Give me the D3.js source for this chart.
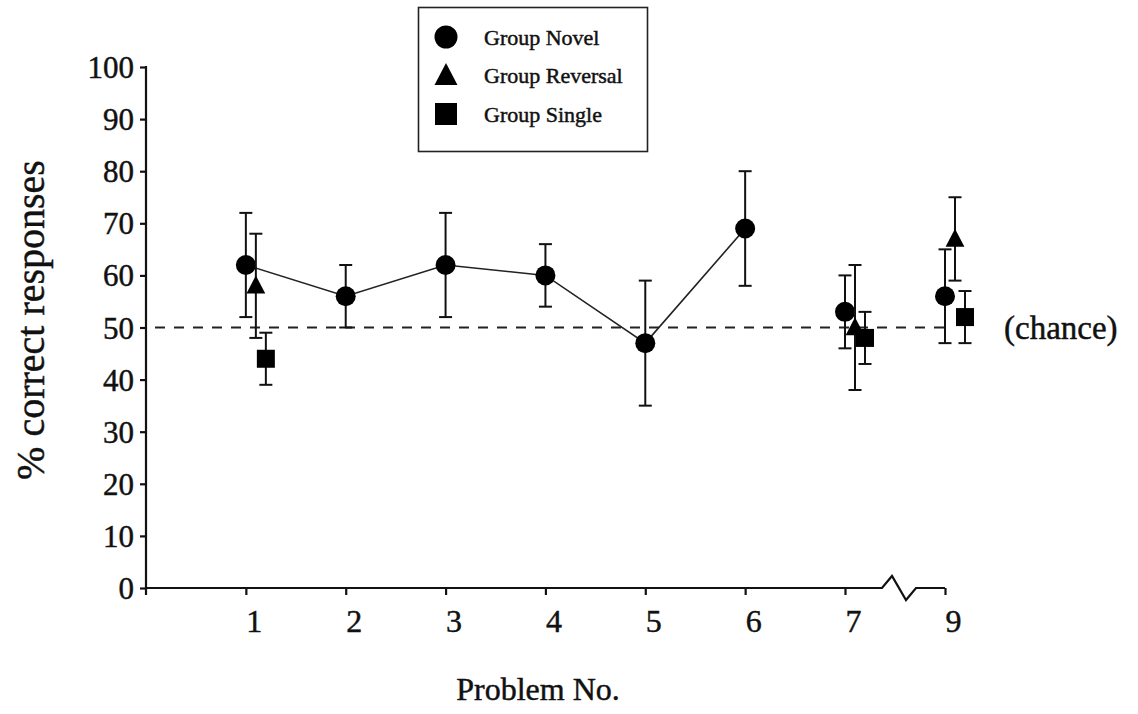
<!DOCTYPE html>
<html>
<head>
<meta charset="utf-8">
<script src="https://cdn.jsdelivr.net/npm/d3@7"></script>
<style>
  body { margin: 0; background: #fff; }
  svg { display: block; font-family: "Liberation Serif", "DejaVu Serif", serif; }
  text { stroke: #111; stroke-width: 0.45px; }
</style>
</head>
<body>
<svg id="chart" width="1138" height="714"></svg>
<script>
// problems on the x axis (8 is skipped, hence the break)
var problems = [1, 2, 3, 4, 5, 6, 7, 9];
var yTicks = [0, 10, 20, 30, 40, 50, 60, 70, 80, 90, 100];
var chance = 50;

// group novel: mean, low, high
var novelProblem = [1, 2, 3, 4, 5, 6, 7, 9];
var novelMean = [62, 56, 62, 60, 47, 69, 53, 56];
var novelLow  = [52, 50, 52, 54, 35, 58, 46, 47];
var novelHigh = [72, 62, 72, 66, 59, 80, 60, 65];

var reversalProblem = [1, 7, 9];
var reversalMean = [58, 50, 67];
var reversalLow  = [48, 38, 59];
var reversalHigh = [68, 62, 75];

var singleProblem = [1, 7, 9];
var singleMean = [44, 48, 52];
var singleLow  = [39, 43, 47];
var singleHigh = [49, 53, 57];

var legendLabels = ["Group Novel", "Group Reversal", "Group Single"];

var svg = d3.select("#chart");

// x: polylinear so that 9 sits closer after the break
var x = d3.scaleLinear().domain([0, 7, 9]).range([146, 845, 945]);
var y = d3.scaleLinear().domain([0, 100]).range([588, 67]);

var groups = [
    { name: "novel", shape: "circle", dx: 0, prob: novelProblem, mean: novelMean, lo: novelLow, hi: novelHigh },
    { name: "reversal", shape: "triangle", dx: 10, prob: reversalProblem, mean: reversalMean, lo: reversalLow, hi: reversalHigh },
    { name: "single", shape: "square", dx: 20, prob: singleProblem, mean: singleMean, lo: singleLow, hi: singleHigh }
];

// y axis
var yAxis = svg.append("g")
    .attr("transform", "translate(" + x(0) + ",0)")
    .call(d3.axisLeft(y).tickValues(yTicks).tickSize(6).tickSizeOuter(0).tickPadding(6));
yAxis.select(".domain").remove();
yAxis.selectAll("line").attr("stroke", "#111").attr("stroke-width", 2.2);
yAxis.selectAll("text")
    .attr("fill", "#111")
    .style("font-size", "31px")
    .style("font-family", "Liberation Serif")
    .attr("dy", "0.34em");
svg.append("line")
    .attr("x1", x(0)).attr("x2", x(0))
    .attr("y1", y(100) - 1).attr("y2", y(0) + 7)
    .attr("stroke", "#111").attr("stroke-width", 2.2);

// x axis (ticks and labels from the axis, domain drawn by hand with a break)
var xAxis = svg.append("g")
    .attr("transform", "translate(0," + y(0) + ")")
    .call(d3.axisBottom(x).tickValues(problems).tickSize(7).tickSizeOuter(0).tickPadding(14));
xAxis.select(".domain").remove();
xAxis.selectAll("line").attr("stroke", "#111").attr("stroke-width", 2.2);
xAxis.selectAll("text")
    .attr("fill", "#111")
    .attr("x", 8)
    .style("font-size", "32px")
    .style("font-family", "Liberation Serif")
    .attr("dy", "0.71em");

var y0 = y(0);
var brk = [[x(0), y0], [x(7) + 37, y0], [x(7) + 47, y0 - 12], [x(7) + 61, y0 + 12], [x(7) + 71, y0], [x(9), y0]];
svg.append("path")
    .attr("d", d3.line()(brk))
    .attr("fill", "none")
    .attr("stroke", "#111")
    .attr("stroke-width", 2.2);

// chance line
svg.append("line")
    .attr("x1", x(0) + 9).attr("x2", x(9) + 3)
    .attr("y1", y(chance)).attr("y2", y(chance))
    .attr("stroke", "#222")
    .attr("stroke-width", 1.8)
    .attr("stroke-dasharray", "10,9");

svg.append("text")
    .attr("x", 1004).attr("y", y(chance))
    .attr("dy", "0.34em")
    .attr("fill", "#111")
    .style("font-size", "33px")
    .text("(chance)");

// novel line across problems 1-6
var novelLine = novelProblem.map(function(p, i) { return { p: p, v: novelMean[i] }; })
    .filter(function(d) { return d.p <= 6; });
svg.append("path")
    .datum(novelLine)
    .attr("fill", "none")
    .attr("stroke", "#222")
    .attr("stroke-width", 1.6)
    .attr("d", d3.line().x(function(d) { return x(d.p); }).y(function(d) { return y(d.v); }));

function drawShape(sel, shape, size) {
    if (shape == "circle") {
        sel.append("circle").attr("r", size).attr("fill", "#000");
    } else if (shape == "triangle") {
        var h = size * 1.9;
        sel.append("path")
            .attr("d", "M0," + (-h * 0.6) + "L" + (h * 0.55) + "," + (h * 0.45) + "L" + (-h * 0.55) + "," + (h * 0.45) + "Z")
            .attr("fill", "#000");
    } else {
        sel.append("rect")
            .attr("x", -size).attr("y", -size)
            .attr("width", size * 2).attr("height", size * 2)
            .attr("fill", "#000");
    }
}

groups.forEach(function(g) {
    var rows = g.prob.map(function(p, i) { return { p: p, m: g.mean[i], lo: g.lo[i], hi: g.hi[i] }; });
    var gg = svg.append("g").attr("class", g.name);

    // error bars
    var eb = gg.selectAll(".err").data(rows).enter().append("g")
        .attr("class", "err")
        .attr("transform", function(d) { return "translate(" + (x(d.p) + g.dx) + ",0)"; });
    eb.append("line")
        .attr("y1", function(d) { return y(d.lo); })
        .attr("y2", function(d) { return y(d.hi); })
        .attr("stroke", "#111").attr("stroke-width", 2);
    eb.append("line")
        .attr("x1", -6.5).attr("x2", 6.5)
        .attr("y1", function(d) { return y(d.lo); })
        .attr("y2", function(d) { return y(d.lo); })
        .attr("stroke", "#111").attr("stroke-width", 2);
    eb.append("line")
        .attr("x1", -6.5).attr("x2", 6.5)
        .attr("y1", function(d) { return y(d.hi); })
        .attr("y2", function(d) { return y(d.hi); })
        .attr("stroke", "#111").attr("stroke-width", 2);

    // markers
    gg.selectAll(".mark").data(rows).enter().append("g")
        .attr("class", "mark")
        .attr("transform", function(d) { return "translate(" + (x(d.p) + g.dx) + "," + y(d.m) + ")"; })
        .each(function() { drawShape(d3.select(this), g.shape, g.shape == "circle" ? 10 : 9); });
});

// legend
var legend = svg.append("g");
legend.append("rect")
    .attr("x", 418.5).attr("y", 7.5)
    .attr("width", 229).attr("height", 144)
    .attr("fill", "#fff")
    .attr("stroke", "#222")
    .attr("stroke-width", 1.6);
legendLabels.forEach(function(lab, i) {
    var cy = 37 + i * 38.5;
    var sym = legend.append("g").attr("transform", "translate(446," + cy + ")");
    drawShape(sym, groups[i].shape, groups[i].shape == "circle" ? 11.5 : 11);
    legend.append("text")
        .attr("x", 484).attr("y", cy)
        .attr("dy", "0.36em")
        .attr("fill", "#111")
        .style("font-size", "22px")
        .text(lab);
});

// axis titles
svg.append("text")
    .attr("transform", "translate(44,320) rotate(-90)")
    .attr("text-anchor", "middle")
    .attr("fill", "#111")
    .style("font-size", "40px")
    .text("% correct responses");

svg.append("text")
    .attr("x", 538).attr("y", 700)
    .attr("text-anchor", "middle")
    .attr("fill", "#111")
    .style("font-size", "32px")
    .text("Problem No.");
</script>
</body>
</html>
